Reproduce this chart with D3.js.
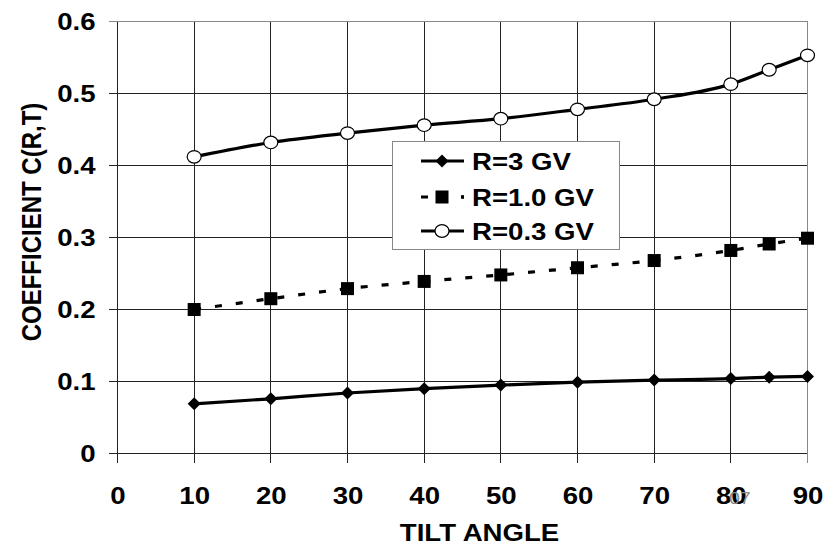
<!DOCTYPE html>
<html>
<head>
<meta charset="utf-8">
<script src="https://cdn.jsdelivr.net/npm/d3@7"></script>
<style>
  body { margin: 0; background: #fff; }
  svg { display: block; font-family: "Liberation Sans", Arial, sans-serif; }
</style>
</head>
<body>
<svg id="chart" width="833" height="545"></svg>
<script>
// tilt angles (degrees)
const tilt = [10, 20, 30, 40, 50, 60, 70, 80, 85, 90];

// coefficient C(R,T) for each rigidity
const r3 = [0.069, 0.076, 0.084, 0.090, 0.095, 0.099, 0.102, 0.104, 0.106, 0.107];
const r10 = [0.200, 0.215, 0.229, 0.239, 0.248, 0.258, 0.268, 0.282, 0.291, 0.299];
const r03 = [0.412, 0.432, 0.445, 0.456, 0.465, 0.478, 0.492, 0.513, 0.533, 0.553];

const xTicks = [0, 10, 20, 30, 40, 50, 60, 70, 80, 90];
const yTicks = [0, 0.1, 0.2, 0.3, 0.4, 0.5, 0.6];

const seriesNames = ["R=3 GV", "R=1.0 GV", "R=0.3 GV"];

const series = [
  { name: seriesNames[0], values: r3, marker: "diamond", dash: null },
  { name: seriesNames[1], values: r10, marker: "square", dash: "7,14" },
  { name: seriesNames[2], values: r03, marker: "circle", dash: null },
];

const svg = d3.select("#chart");
const plotL = 117.5, plotR = 807.5, plotT = 21.5, plotB = 453.5;
// the original picture is stretched sideways, text included
const sx = 1.15;

const x = d3.scaleLinear().domain([0, 90]).range([plotL, plotR]);
const y = d3.scaleLinear().domain([0, 0.6]).range([plotB, plotT]);

// grid
const grid = svg.append("g").attr("shape-rendering", "crispEdges");
grid.selectAll("line.h").data(yTicks).join("line")
  .attr("x1", plotL - 9).attr("x2", plotR)
  .attr("y1", (d) => y(d)).attr("y2", (d) => y(d))
  .attr("stroke", (d) => (d === 0.6 ? "#888" : "#222"));
grid.selectAll("line.v").data(xTicks).join("line")
  .attr("x1", (d) => x(d)).attr("x2", (d) => x(d))
  .attr("y1", plotT).attr("y2", plotB + 9)
  .attr("stroke", (d) => (d === 90 ? "#888" : "#222"));

// axes labels via d3 axes (lines hidden, text only)
const xAxis = svg.append("g")
  .attr("transform", `translate(0,${plotB})`)
  .call(d3.axisBottom(x).tickValues(xTicks).tickSize(0).tickPadding(33));
xAxis.select(".domain").remove();
xAxis.selectAll("text")
  .attr("font-size", 24).attr("font-weight", "bold").attr("fill", "#000")
  .attr("font-family", "Liberation Sans, Arial, sans-serif")
  .attr("transform", `scale(${sx},1)`);

const yAxis = svg.append("g")
  .attr("transform", `translate(${plotL},0)`)
  .call(d3.axisLeft(y).tickValues(yTicks).tickSize(0).tickPadding(22)
    .tickFormat((d) => (d === 0 ? "0" : d3.format(".1f")(d))));
yAxis.select(".domain").remove();
yAxis.selectAll("text")
  .attr("font-size", 24).attr("font-weight", "bold").attr("fill", "#000")
  .attr("font-family", "Liberation Sans, Arial, sans-serif")
  .attr("x", 0)
  .attr("transform", `translate(-22,0) scale(${sx},1)`);

// stray grey label overlapping "80"
svg.append("text")
  .attr("transform", `translate(${x(80) + 9},504) scale(${sx},1)`)
  .attr("text-anchor", "middle")
  .attr("font-size", 17).attr("fill", "#8a8a8a")
  .text("07");

// titles
svg.append("text")
  .attr("transform", `translate(${(plotL + plotR) / 2 + 17},541) scale(${sx},1)`)
  .attr("text-anchor", "middle")
  .attr("font-size", 24).attr("font-weight", "bold")
  .text("TILT ANGLE");

svg.append("text")
  .attr("transform", `translate(41,222) scale(${sx},1) rotate(-90)`)
  .attr("text-anchor", "middle")
  .attr("font-size", 24).attr("font-weight", "bold")
  .text("COEFFICIENT C(R,T)");

// series
const line = d3.line().x((d) => x(d[0])).y((d) => y(d[1])).curve(d3.curveMonotoneX);

const drawMarker = (sel, type, cx, cy) => {
  if (type === "diamond") {
    sel.append("path")
      .attr("d", `M${cx},${cy - 6.5}L${cx + 6.5},${cy}L${cx},${cy + 6.5}L${cx - 6.5},${cy}Z`)
      .attr("fill", "#000");
  } else if (type === "square") {
    sel.append("rect")
      .attr("x", cx - 6.5).attr("y", cy - 6.5).attr("width", 13).attr("height", 13)
      .attr("fill", "#000");
  } else {
    sel.append("ellipse")
      .attr("cx", cx).attr("cy", cy).attr("rx", 7).attr("ry", 6.3)
      .attr("fill", "#fff").attr("stroke", "#000").attr("stroke-width", 1.2);
  }
};

series.forEach((s) => {
  const pts = tilt.map((t, i) => [t, s.values[i]]);
  const g = svg.append("g");
  g.append("path")
    .attr("d", line(pts))
    .attr("fill", "none").attr("stroke", "#000").attr("stroke-width", 3.2)
    .attr("stroke-dasharray", s.dash);
  pts.forEach((p) => drawMarker(g, s.marker, x(p[0]), y(p[1])));
});

// legend
const lg = svg.append("g");
lg.append("rect")
  .attr("x", 392).attr("y", 141).attr("width", 227).attr("height", 108)
  .attr("fill", "#fff").attr("stroke", "#888").attr("shape-rendering", "crispEdges");
const rowY = [161, 197, 231];
series.forEach((s, i) => {
  const cy = rowY[i];
  lg.append("line")
    .attr("x1", 421).attr("x2", 464).attr("y1", cy).attr("y2", cy)
    .attr("stroke", "#000").attr("stroke-width", 3.2)
    .attr("stroke-dasharray", s.dash ? "7,33" : null);
  if (s.dash) {
    lg.append("line")
      .attr("x1", 461).attr("x2", 464).attr("y1", cy).attr("y2", cy)
      .attr("stroke", "#000").attr("stroke-width", 3.2);
  }
  drawMarker(lg, s.marker, 442, cy);
  lg.append("text")
    .attr("transform", `translate(472,${cy + 9}) scale(${sx},1)`)
    .attr("font-size", 24).attr("font-weight", "bold")
    .text(s.name);
});
</script>
</body>
</html>
